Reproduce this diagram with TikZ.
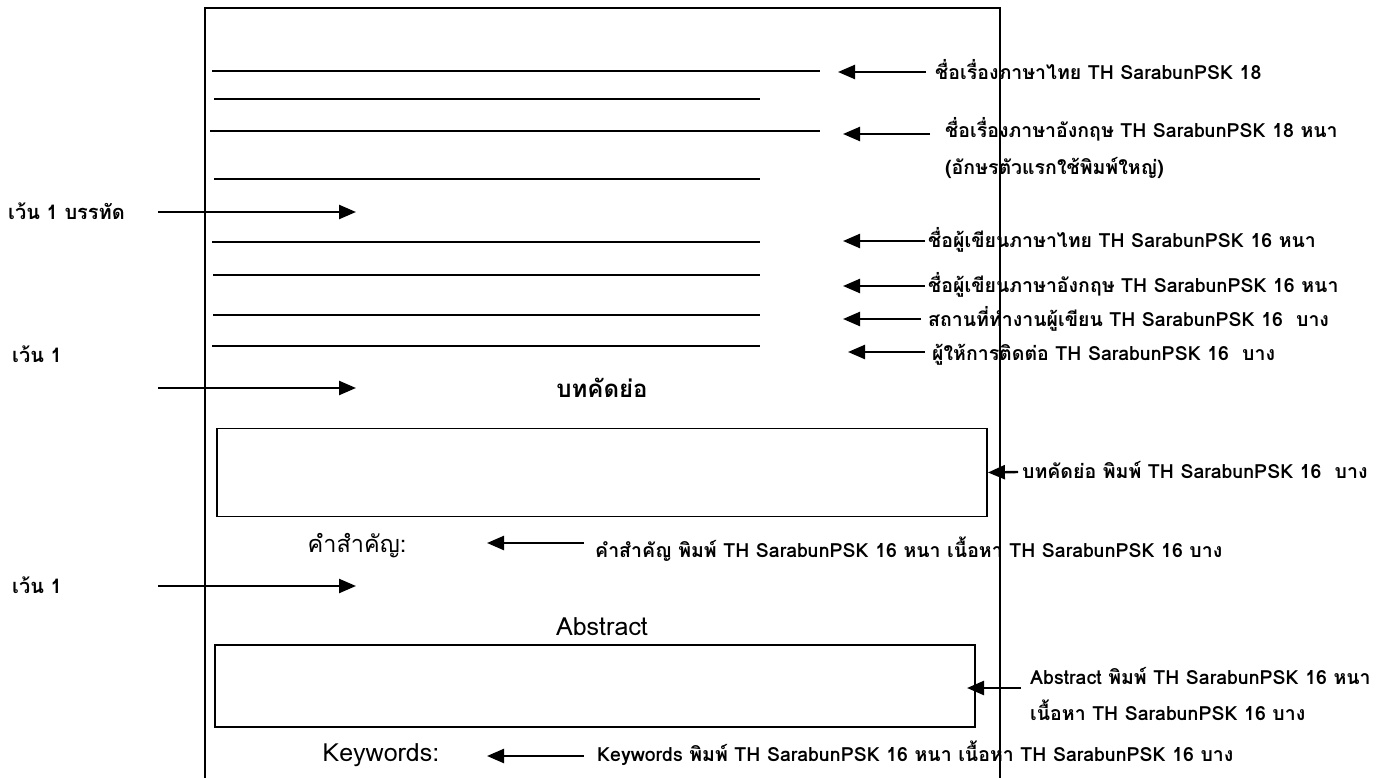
\documentclass[tikz,border=0pt]{standalone}
\usepackage{fontspec}
\setmainfont[Script=Thai]{Loma}
\usetikzlibrary{arrows.meta}
\tikzset{
  page/.style={line width=2pt},
  rule/.style={line width=1.6pt},
  boxframe/.style={draw, line width=1.8pt},
  arr/.style={line width=2.4pt, -{Triangle[length=17pt,width=14pt]}},
  lbl/.style={anchor=base west, inner sep=0pt, font=\bfseries\fontsize{19.5}{24}\selectfont},
  lefttxt/.style={anchor=base west, inner sep=0pt, font=\bfseries\fontsize{20}{24}\selectfont},
  ttl/.style={anchor=base, inner sep=0pt, font=\fontsize{25}{30}\selectfont},
  ttlth/.style={anchor=base, inner sep=0pt, font=\fontsize{23.5}{30}\selectfont},
  ttlb/.style={anchor=base, inner sep=0pt, font=\bfseries\fontsize{24}{30}\selectfont},
}
\begin{document}
\begin{tikzpicture}[x=1pt,y=-1pt]
\useasboundingbox (0,0) rectangle (1388,778);
% page outline (open at bottom)
\draw[page] (205,790) -- (205,8) -- (1000,8) -- (1000,790);
% rules
\coordinate (r1a) at (212,71);  \coordinate (r1b) at (820,71);
\coordinate (r2a) at (214,99);  \coordinate (r2b) at (760,99);
\coordinate (r3a) at (210,131); \coordinate (r3b) at (820,131);
\coordinate (r4a) at (214,179); \coordinate (r4b) at (760,179);
\coordinate (r5a) at (212,242); \coordinate (r5b) at (760,242);
\coordinate (r6a) at (213,275); \coordinate (r6b) at (760,275);
\coordinate (r7a) at (213,315); \coordinate (r7b) at (760,315);
\coordinate (r8a) at (212,346); \coordinate (r8b) at (760,346);
\foreach \i in {1,...,8} {\draw[rule] (r\i a) -- (r\i b);}
% boxes
\node[boxframe, minimum width=770pt, minimum height=88pt, inner sep=0pt] (thbox) at (602,472.5) {};
\node[boxframe, minimum width=760pt, minimum height=82pt, inner sep=0pt] (enbox) at (595,686) {};
% titles
\node[ttlb] (thttl) at (602,397) {บทคัดย่อ};
\node[ttlth] (kwth) at (357,552) {คำสำคัญ:};
\node[ttl] (enttl) at (602,635) {Abstract};
\node[ttl] (kwen) at (381,761) {Keywords:};
% right labels
\node[lbl] (l1) at (935,79.5) {ชื่อเรื่องภาษาไทย TH SarabunPSK 18};
\node[lbl] (l2) at (945,137.5) {ชื่อเรื่องภาษาอังกฤษ TH SarabunPSK 18 หนา};
\node[lbl] (l2b) at (945,174.5) {(อักษรตัวแรกใช้พิมพ์ใหญ่)};
\node[lbl] (l3) at (928,247.5) {ชื่อผู้เขียนภาษาไทย TH SarabunPSK 16 หนา};
\node[lbl] (l4) at (928,292.5) {ชื่อผู้เขียนภาษาอังกฤษ TH SarabunPSK 16 หนา};
\node[lbl] (l5) at (928,326.5) {สถานที่ทำงานผู้เขียน TH SarabunPSK 16 \ บาง};
\node[lbl] (l6) at (932,360.5) {ผู้ให้การติดต่อ TH SarabunPSK 16 \ บาง};
\node[lbl] (l7) at (1022,478.5) {บทคัดย่อ พิมพ์ TH SarabunPSK 16 \ บาง};
\node[lbl] (l8) at (595,557.5) {คำสำคัญ พิมพ์ TH SarabunPSK 16 หนา เนื้อหา TH SarabunPSK 16 บาง};
\node[lbl] (l9) at (1030,684.5) {Abstract พิมพ์ TH SarabunPSK 16 หนา};
\node[lbl] (l9b) at (1030,720.5) {เนื้อหา TH SarabunPSK 16 บาง};
\node[lbl] (l10) at (597,761.5) {Keywords พิมพ์ TH SarabunPSK 16 หนา เนื้อหา TH SarabunPSK 16 บาง};
% arrows
\coordinate (a1s) at (926,72);  \coordinate (a1) at (838,72);
\coordinate (a2s) at (930,134); \coordinate (a2) at (843,134);
\coordinate (a3s) at (925,241); \coordinate (a3) at (843,241);
\coordinate (a4s) at (925,286); \coordinate (a4) at (843,286);
\coordinate (a5s) at (921,319); \coordinate (a5) at (843,319);
\coordinate (a6s) at (925,352); \coordinate (a6) at (848,352);
\coordinate (a7s) at (1018,472); \coordinate (a7) at (thbox.east);
\coordinate (a8s) at (584,543); \coordinate (a8) at (487,543);
\coordinate (a9s) at (1021,688); \coordinate (a9) at (967,688);
\coordinate (a10s) at (584,756); \coordinate (a10) at (487,756);
\foreach \i in {1,...,10} {\draw[arr] (a\i s) -- (a\i);}
% left notes
\node[lefttxt] (n1) at (8,219) {เว้น 1 บรรทัด};
\node[lefttxt] (n2) at (12,362) {เว้น 1};
\node[lefttxt] (n3) at (12,593) {เว้น 1};
\coordinate (b1s) at (158,212); \coordinate (b1) at (356,212);
\coordinate (b2s) at (158,388); \coordinate (b2) at (356,388);
\coordinate (b3s) at (158,586); \coordinate (b3) at (356,586);
\foreach \i in {1,2,3} {\draw[arr] (b\i s) -- (b\i);}
\end{tikzpicture}
\end{document}
